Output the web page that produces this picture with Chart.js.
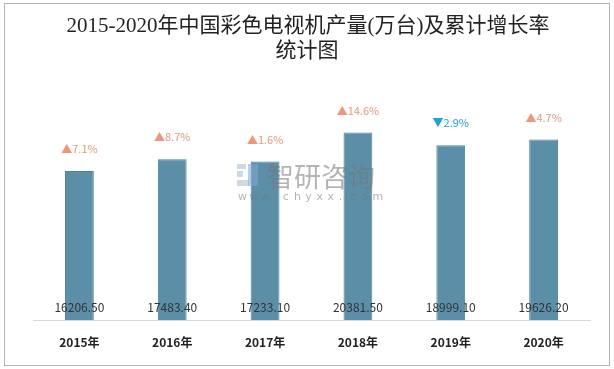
<!DOCTYPE html>
<html><head><meta charset="utf-8">
<script src="https://cdn.jsdelivr.net/npm/chart.js@4"></script>
<style>html,body{margin:0;padding:0;background:#fff}#wrap{width:614px;height:369px;position:relative}</style>
</head><body><div id="wrap"><canvas id="c" width="614" height="369"></canvas></div>
<script>
const categories = ['2015年','2016年','2017年','2018年','2019年','2020年'];
const production = [16206.50, 17483.40, 17233.10, 20381.50, 18999.10, 19626.20];
const growth = [7.1, 8.7, 1.6, 14.6, -2.9, 4.7];
const titleLines = ['2015-2020年中国彩色电视机产量(万台)及累计增长率', '统计图'];

const deco = {
  id: 'deco',
  beforeDraw(chart) {
    const ctx = chart.ctx;
    ctx.save();
    ctx.fillStyle = '#fff';
    ctx.fillRect(0, 0, chart.width, chart.height);
    ctx.strokeStyle = '#b4b4b4';
    ctx.lineWidth = 1;
    ctx.strokeRect(4.5, 3.5, 605, 362);
    ctx.fillStyle = '#222';
    ctx.font = '21px "Liberation Serif", "Noto Sans CJK SC", serif';
    ctx.textAlign = 'center';
    ctx.textBaseline = 'middle';
    ctx.fillText(titleLines[0], 308, 26);
    ctx.fillText(titleLines[1], 307, 51);
    ctx.restore();
  },
  afterDatasetsDraw(chart) {
    const ctx = chart.ctx;
    const meta = chart.getDatasetMeta(0);
    ctx.save();
    ctx.textAlign = 'center';
    ctx.textBaseline = 'middle';
    meta.data.forEach((bar, i) => {
      ctx.font = '12px "Noto Sans CJK SC", "DejaVu Sans", sans-serif';
      ctx.fillStyle = '#333';
      ctx.fillText(production[i].toFixed(2), bar.x, 307);
      const g = growth[i];
      const up = g >= 0;
      ctx.fillStyle = up ? '#f0947a' : '#1aa3de';
      ctx.font = '11px "Noto Sans CJK SC", "DejaVu Sans", sans-serif';
      ctx.fillText((up ? '▲' : '▼') + Math.abs(g).toFixed(1) + '%', bar.x, bar.y - 22);
    });
    // watermark
    ctx.globalAlpha = 0.55;
    ctx.fillStyle = '#a9b8cc';
    ctx.fillRect(237, 164, 9, 5);
    ctx.fillRect(237, 171, 6, 6);
    ctx.fillRect(237, 180, 12, 6);
    ctx.fillStyle = '#7fa9d6';
    ctx.fillRect(248, 164, 10, 22);
    ctx.fillStyle = '#777';
    ctx.textAlign = 'left';
    ctx.font = '27px "Noto Sans CJK SC", sans-serif';
    ctx.fillText('智研咨询', 267, 177);
    ctx.font = '11px "DejaVu Sans", sans-serif';
    const s = 'www.chyxx.com';
    for (let k = 0; k < s.length; k++) ctx.fillText(s[k], 238 + k * 11.2, 197);
    ctx.restore();
  }
};

new Chart(document.getElementById('c'), {
  type: 'bar',
  data: {
    labels: categories,
    datasets: [{
      data: production,
      backgroundColor: '#5b8fa8',
      borderColor: '#4e8299',
      borderWidth: 1,
      barPercentage: 0.62,
      categoryPercentage: 0.5
    }]
  },
  options: {
    responsive: false,
    animation: false,
    layout: { padding: { left: 33, right: 24, top: 90, bottom: 0 } },
    plugins: { legend: { display: false }, title: { display: false }, tooltip: { enabled: false } },
    scales: {
      y: { display: false, min: 0, max: 25000 },
      x: {
        grid: { display: false, drawTicks: false },
        border: { color: '#d9d9d9', width: 1 },
        ticks: { color: '#222', padding: 15, font: { size: 12, weight: 'bold', family: '"Noto Sans CJK SC", "DejaVu Sans", sans-serif' } },
        afterFit(scale) { scale.height = 49; }
      }
    }
  },
  plugins: [deco]
});
</script>
</body></html>
